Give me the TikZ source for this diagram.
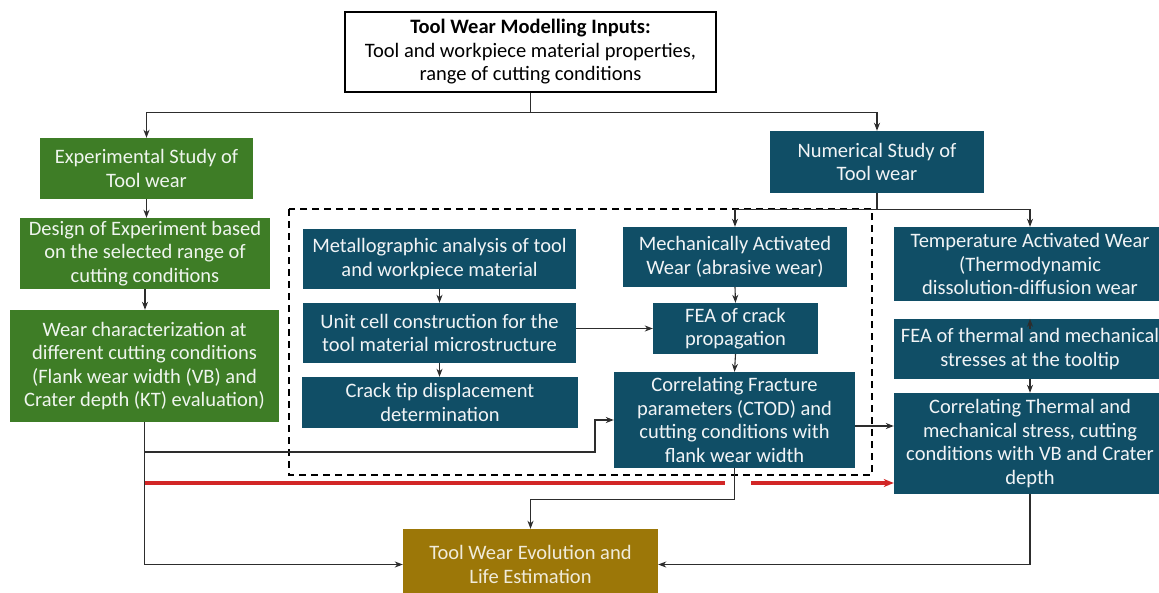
\documentclass[tikz,border=0pt]{standalone}
\usepackage{fontspec}
\setmainfont{Carlito}
\usetikzlibrary{arrows.meta, positioning, calc}
\definecolor{ExpGreen}{RGB}{62, 125, 38}
\definecolor{NumBlue}{RGB}{16, 78, 102}
\definecolor{EvoGold}{RGB}{156, 119, 8}
\definecolor{LinkRed}{RGB}{210, 38, 38}
\definecolor{LinkGray}{RGB}{45, 45, 45}

\begin{document}
\begin{tikzpicture}[
    x=1pt, y=-1pt,
    font=\fontsize{20.5}{23.5}\selectfont,
    stage/.style={inner sep=0pt, align=center},
    expbox/.style={stage, fill=ExpGreen, text=ExpGreen!8!white},
    numbox/.style={stage, fill=NumBlue, text=NumBlue!6!white},
    evobox/.style={stage, fill=EvoGold, text=EvoGold!15!white},
    inbox/.style={stage, draw=black, line width=1.3pt, fill=white},
    arrow/.style={-{Stealth[length=8pt, width=6pt, inset=2.5pt]}, LinkGray, line width=1.1pt},
    line/.style={LinkGray, line width=1.1pt},
    redarrow/.style={-{Stealth[length=10pt, width=8pt, inset=3pt]}, LinkRed, line width=3.4pt},
    dashbox/.style={draw=black, line width=1.4pt, dash pattern=on 7pt off 5pt}
]
\useasboundingbox (0,0) rectangle (1159,592);

% Inputs
\node[inbox, minimum width=371, minimum height=80] (inputs) at (530.5,52) {%
    \textbf{Tool Wear Modelling Inputs:}\\
    Tool and workpiece material properties,\\
    range of cutting conditions};

% Experimental branch
\node[expbox, minimum width=213, minimum height=61] (exper) at (146.5,168.5) {Experimental Study of\\Tool wear};
\node[expbox, minimum width=250, minimum height=71] (doe) at (145,253.5) {Design of Experiment based\\on the selected range of\\cutting conditions};
\node[expbox, minimum width=269, minimum height=112] (wearchar) at (144.5,366) {Wear characterization at\\different cutting conditions\\(Flank wear width (VB) and\\Crater depth (KT) evaluation)};

% Numerical branch
\node[numbox, minimum width=214, minimum height=62] (numer) at (877,162) {Numerical Study of\\Tool wear};

% Mechanical wear (dashed group)
\draw[dashbox] (289,209) rectangle (872,475);
\node[numbox, minimum width=273, minimum height=60] (metallo) at (439.5,259) {Metallographic analysis of tool\\and workpiece material};
\node[numbox, minimum width=273, minimum height=60] (unitcell) at (439.5,333) {Unit cell construction for the\\tool material microstructure};
\node[numbox, minimum width=276, minimum height=51] (cracktip) at (440,402.5) {Crack tip displacement\\determination};
\node[numbox, minimum width=224, minimum height=60] (mechwear) at (735,257) {Mechanically Activated\\Wear (abrasive wear)};
\node[numbox, minimum width=165, minimum height=51] (feacrack) at (735.5,328.5) {FEA of crack\\propagation};
\node[numbox, minimum width=241, minimum height=96] (corrfrac) at (734.5,420) {Correlating Fracture\\parameters (CTOD) and\\cutting conditions with\\flank wear width};

% Thermal wear
\node[numbox, minimum width=272, minimum height=74] (tempwear) at (1030,264) {Temperature Activated Wear\\(Thermodynamic\\dissolution-diffusion wear};
\node[numbox, minimum width=272, minimum height=60] (featherm) at (1030,349) {FEA of thermal and mechanical\\stresses at the tooltip};
\node[numbox, minimum width=272, minimum height=101] (corrtherm) at (1030,443.5) {Correlating Thermal and\\mechanical stress, cutting\\conditions with VB and Crater\\depth};

% Output
\node[evobox, minimum width=255, minimum height=71] (evol) at (530.5,564.5) {Tool Wear Evolution and\\Life Estimation};

% Split points
\coordinate (topsplit) at ($(inputs.south)+(0,20)$);
\coordinate (numsplit) at ($(numer.south)+(0,16)$);
\coordinate (fracjoin) at (wearchar.south |- 0,452);
\coordinate (redstart) at (wearchar.south |- 0,483);

% Connectors
\draw[line] (inputs.south) -- (topsplit);
\draw[arrow] (topsplit) -| (exper.north);
\draw[arrow] (topsplit) -| (numer.north);
\draw[arrow] (exper.south) -- (exper.south |- doe.north);
\draw[arrow] (doe.south) -- (doe.south |- wearchar.north);
\draw[arrow] (wearchar.south) |- (evol.west);
\draw[arrow] (fracjoin) -- (595,452) |- (corrfrac.west);
\draw[redarrow] (redstart) -- (725,483) (751,483) -- (redstart -| corrtherm.west);

\draw[line] (numer.south) -- (numsplit);
\draw[arrow] (numsplit) -| (mechwear.north);
\draw[arrow] (numsplit) -| (tempwear.north);

\draw[arrow] (metallo.south) -- (metallo.south |- unitcell.north);
\draw[arrow] (unitcell.south) -- (unitcell.south |- cracktip.north);
\draw[arrow] (unitcell.east |- feacrack.west) -- (feacrack.west);
\draw[arrow] (mechwear.south) -- (feacrack.north);
\draw[arrow] (feacrack.south) -- (corrfrac.north);
\draw[arrow] ([yshift=-6pt]corrfrac.east) -- ([yshift=-6pt]corrfrac.east -| corrtherm.west);
\draw[arrow] (corrfrac.south) -- ++(0,31) -| (evol.north);

\draw[arrow] ([yshift=-10pt]featherm.north) -- (featherm.north);
\draw[arrow] (featherm.south) -- (corrtherm.north);
\draw[arrow] (corrtherm.south) |- (evol.east);

\end{tikzpicture}
\end{document}
